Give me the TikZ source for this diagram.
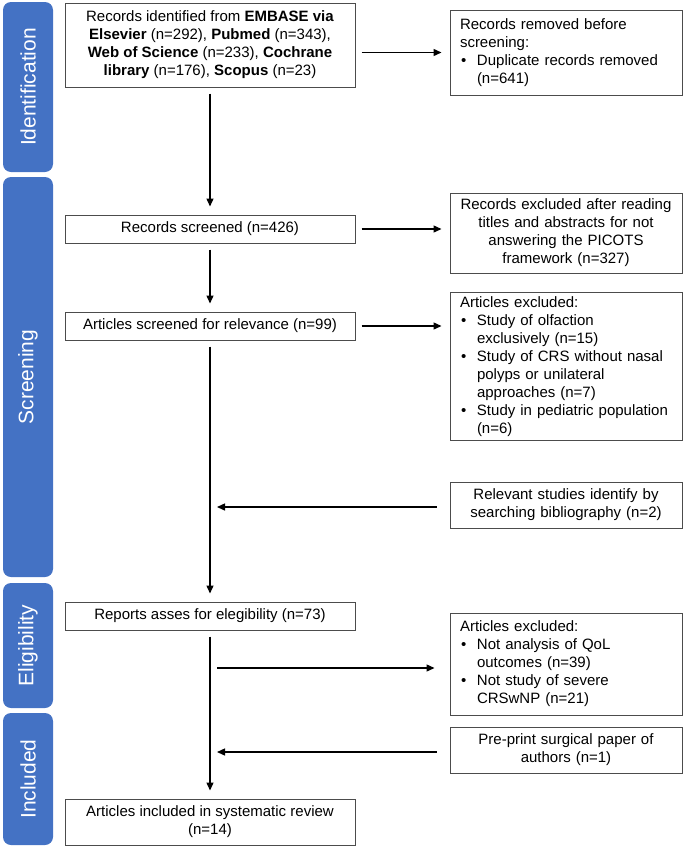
\documentclass[tikz,border=0pt]{standalone}
\usepackage{fontspec}
\setmainfont{Liberation Sans}
\usepackage{tikz}
\usetikzlibrary{arrows.meta}
\definecolor{phaseblue}{HTML}{4472C4}
\newcommand{\bul}{\makebox[17pt][l]{\hspace{1pt}\textbullet}}
\newcommand{\ind}{\hspace*{17pt}}

\begin{document}
\begin{tikzpicture}[x=1pt, y=-1pt,
	every node/.style={font=\fontsize{15}{18}\selectfont},
	phase/.style={rectangle, rounded corners=8pt, fill=phaseblue, text=white, rotate=90, minimum height=50pt, inner sep=0pt, font=\fontsize{21}{24}\selectfont},
	mainbox/.style={rectangle, draw=black!70, line width=1pt, minimum width=290pt, align=center, inner sep=4pt},
	sidebox/.style={rectangle, draw=black!70, line width=1pt, text width=212pt, inner xsep=10pt, inner ysep=4pt},
	arr/.style={line width=1.4pt, -{Triangle[length=8pt,width=7pt]}, shorten <=6pt, shorten >=8pt}]
	\useasboundingbox (0,0) rectangle (685,849);
	% phases
	\node[phase, minimum width=170pt] (pident) at (28,87) {Identification};
	\node[phase, minimum width=400pt] (pscreen) at (28,377) {Screening};
	\node[phase, minimum width=125pt] (pelig) at (28,645.5) {Eligibility};
	\node[phase, minimum width=132pt] (pincl) at (28,779) {Included};
	% main column
	\node[mainbox, minimum height=84pt] (ident) at (210,45) {Records identified from \textbf{EMBASE via}\\ \textbf{Elsevier} (n=292), \textbf{Pubmed} (n=343),\\ \textbf{Web of Science} (n=233), \textbf{Cochrane}\\ \textbf{library} (n=176), \textbf{Scopus} (n=23)};
	\node[mainbox, minimum height=28pt] (recscr) at (210,229) {Records screened (n=426)};
	\node[mainbox, minimum height=28pt] (artscr) at (210,326) {Articles screened for relevance (n=99)};
	\node[mainbox, minimum height=28pt] (reports) at (210,616) {Reports asses for elegibility (n=73)};
	\node[mainbox, minimum height=46pt] (incl) at (210,822) {Articles included in systematic review\\ (n=14)};
	% side column
	\node[sidebox, align=left, minimum height=85pt] (removed) at (566,52.5) {Records removed before\\ screening:\\ \bul Duplicate records removed\\ \ind(n=641)};
	\node[sidebox, align=center, minimum height=80pt] (recexcl) at (566,233) {Records excluded after reading\\ titles and abstracts for not\\ answering the PICOTS\\ framework (n=327)};
	\node[sidebox, align=left, minimum height=143pt] (artexcl) at (566,366.5) {Articles excluded:\\ \bul Study of olfaction\\ \ind exclusively (n=15)\\ \bul Study of CRS without nasal\\ \ind polyps or unilateral\\ \ind approaches (n=7)\\ \bul Study in pediatric population\\ \ind(n=6)};
	\node[sidebox, align=center, minimum height=46pt] (relev) at (566,505) {Relevant studies identify by\\ searching bibliography (n=2)};
	\node[sidebox, align=left, minimum height=102pt] (eligexcl) at (566,664) {Articles excluded:\\ \bul Not analysis of QoL\\ \ind outcomes (n=39)\\ \bul Not study of severe\\ \ind CRSwNP (n=21)};
	\node[sidebox, align=center, minimum height=46pt] (preprint) at (566,750) {Pre-print surgical paper of\\ authors (n=1)};
	% junctions on the main line
	\coordinate (jrelev) at (217,507);
	\coordinate (jelig) at (217,668);
	\coordinate (jpre) at (217,752);
	% arrows
	\draw[arr] (ident) -- (recscr);
	\draw[arr] (recscr) -- (artscr);
	\draw[arr] (artscr) -- (reports);
	\draw[arr] (reports) -- (incl);
	\draw[arr] (ident.east |- removed.west) -- (removed.west);
	\draw[arr] (recscr.east) -- (recscr.east -| recexcl.west);
	\draw[arr] (artscr.east) -- (artscr.east -| artexcl.west);
	\draw[arr, shorten <=13pt, shorten >=0pt] (jrelev -| relev.west) -- (jrelev);
	\draw[arr, shorten <=0pt, shorten >=15pt] (jelig) -- (jelig -| eligexcl.west);
	\draw[arr, shorten <=13pt, shorten >=0pt] (jpre -| preprint.west) -- (jpre);
\end{tikzpicture}
\end{document}
